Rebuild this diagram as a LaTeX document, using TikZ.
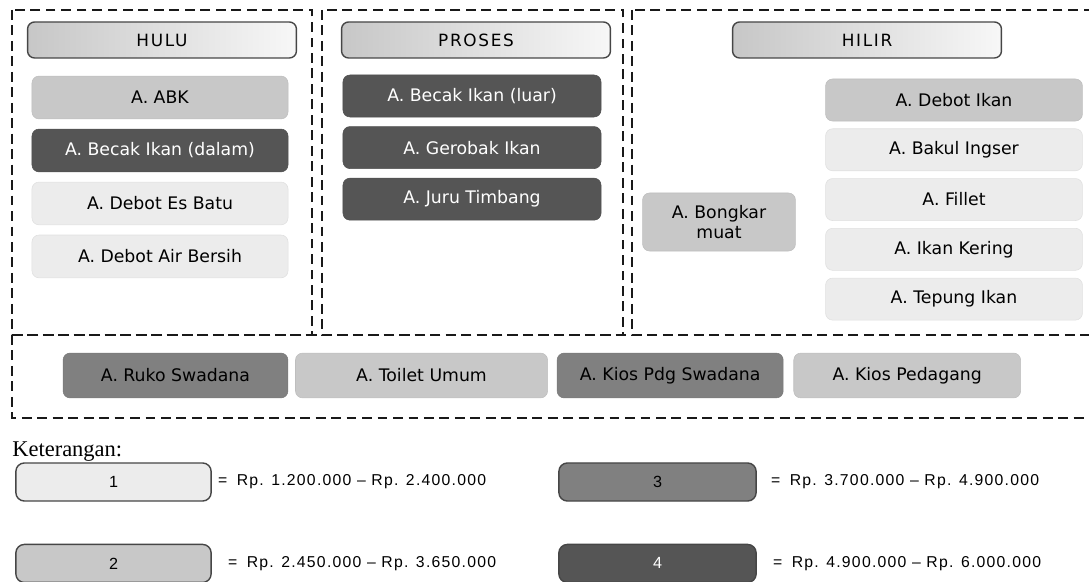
\documentclass[tikz,border=0pt]{standalone}
\usepackage{fontspec}
\setmainfont{Liberation Serif}
\setsansfont{DejaVu Sans}
\newfontfamily\legfont[LetterSpace=8]{Liberation Sans}
\newfontfamily\hdrfont[LetterSpace=10]{DejaVu Sans}
\usepackage{tikz}
\usetikzlibrary{positioning}
\definecolor{mylight}{RGB}{236,236,236}
\definecolor{mysilver}{RGB}{200,200,200}
\definecolor{mymid}{RGB}{128,128,128}
\definecolor{mydark}{RGB}{85,85,85}
\definecolor{myedge}{RGB}{70,70,70}

\begin{document}
\begin{tikzpicture}[x=0.025cm, y=-0.025cm,
  font=\sffamily\fontsize{12.3}{14}\selectfont,
  frame/.style={draw=black!90, line width=1.5pt, dash pattern=on 7pt off 4pt},
  hdrbox/.style={draw=myedge, line width=1pt, rounded corners=5pt,
        left color=black!22, right color=black!3,
        minimum width=6.72cm, minimum height=0.9cm,
        font=\hdrfont\fontsize{12}{14}\selectfont},
  item/.style={rounded corners=5pt, align=center, inner sep=2pt,
        minimum height=1.05cm},
  lvone/.style={fill=mylight, draw=mylight!95!black},
  lvtwo/.style={fill=mysilver, draw=mysilver!95!black},
  lvthree/.style={fill=mymid, draw=mymid!95!black},
  lvfour/.style={fill=mydark, draw=mydark!95!black, text=white},
  legbox/.style={draw=myedge, line width=1pt, rounded corners=6pt,
        minimum width=4.88cm, minimum height=0.95cm,
        font=\legfont\fontsize{11.5}{13}\selectfont},
  legtext/.style={inner sep=0pt, anchor=west,
        font=\legfont\fontsize{11.2}{13}\selectfont}]

  \useasboundingbox (0,0) rectangle (1089,582);

  % dashed frames
  \draw[frame] (12,10) rectangle (312,335);
  \draw[frame] (322,10) rectangle (623,335);
  \draw[frame] (632,10) rectangle (1110,335);
  \draw[frame] (12,335) rectangle (1110,418);

  % headers
  \node[hdrbox] (hulu) at (162,40) {HULU};
  \node[hdrbox] (proses) at (476,40) {PROSES};
  \node[hdrbox] (hilir) at (867,40) {HILIR};

  % hulu
  \node[item, lvtwo, minimum width=6.4cm, minimum height=1.07cm] (abk) at (160,97.5) {A. ABK};
  \node[item, lvfour, minimum width=6.4cm, minimum height=1.07cm, below=0.24cm of abk]
    (becakdalam) {A. Becak Ikan (dalam)};
  \node[item, lvone, minimum width=6.4cm, minimum height=1.07cm, below=0.24cm of becakdalam]
    (esbatu) {A. Debot Es Batu};
  \node[item, lvone, minimum width=6.4cm, minimum height=1.07cm, below=0.24cm of esbatu]
    (airbersih) {A. Debot Air Bersih};

  % proses
  \node[item, lvfour, minimum width=6.45cm] (becakluar) at (472,96) {A. Becak Ikan (luar)};
  \node[item, lvfour, minimum width=6.45cm, below=0.225cm of becakluar]
    (gerobak) {A. Gerobak Ikan};
  \node[item, lvfour, minimum width=6.45cm, below=0.225cm of gerobak]
    (timbang) {A. Juru Timbang};

  % hilir
  \node[item, lvtwo, minimum width=3.82cm, minimum height=1.45cm] (bongkar) at (719,222)
    {A. Bongkar\\muat};
  \node[item, lvtwo, minimum width=6.42cm] (debotikan) at (954,100) {A. Debot Ikan};
  \node[item, lvone, minimum width=6.42cm, below=0.18cm of debotikan]
    (bakul) {A. Bakul Ingser};
  \node[item, lvone, minimum width=6.42cm, below=0.18cm of bakul]
    (fillet) {A. Fillet};
  \node[item, lvone, minimum width=6.42cm, below=0.18cm of fillet]
    (kering) {A. Ikan Kering};
  \node[item, lvone, minimum width=6.42cm, below=0.18cm of kering]
    (tepung) {A. Tepung Ikan};

  % bottom row
  \node[item, lvthree, minimum width=5.62cm, minimum height=1.12cm] (ruko) at (175.5,375.5)
    {A. Ruko Swadana};
  \node[item, lvtwo, minimum width=6.3cm, minimum height=1.12cm, right=0.175cm of ruko]
    (toilet) {A. Toilet Umum};
  \node[item, lvthree, minimum width=5.65cm, minimum height=1.12cm, right=0.225cm of toilet]
    (kiospdg) {A. Kios Pdg Swadana};
  \node[item, lvtwo, minimum width=5.67cm, minimum height=1.12cm, right=0.25cm of kiospdg]
    (kios) {A. Kios Pedagang};

  % legend
  \node[anchor=west, inner sep=0pt, font=\rmfamily\fontsize{16}{18}\selectfont]
    (ket) at (12,452) {Keterangan:};
  \node[legbox, fill=mylight] (leg1) at (113.5,482) {1};
  \node[legbox, fill=mysilver, below=1.05cm of leg1] (leg2) {2};
  \node[legbox, fill=mymid, minimum width=4.93cm] (leg3) at (657.5,482) {3};
  \node[legbox, fill=mydark, text=white, minimum width=4.93cm, below=1.05cm of leg3] (leg4) {4};
  \node[legtext, right=0.15cm of leg1] (val1) {=\hspace{0.6em}Rp. 1.200.000 – Rp. 2.400.000};
  \node[legtext, right=0.4cm of leg2] (val2) {=\hspace{0.6em}Rp. 2.450.000 – Rp. 3.650.000};
  \node[legtext, right=0.35cm of leg3] (val3) {=\hspace{0.6em}Rp. 3.700.000 – Rp. 4.900.000};
  \node[legtext, right=0.4cm of leg4] (val4) {=\hspace{0.6em}Rp. 4.900.000 – Rp. 6.000.000};
\end{tikzpicture}
\end{document}
